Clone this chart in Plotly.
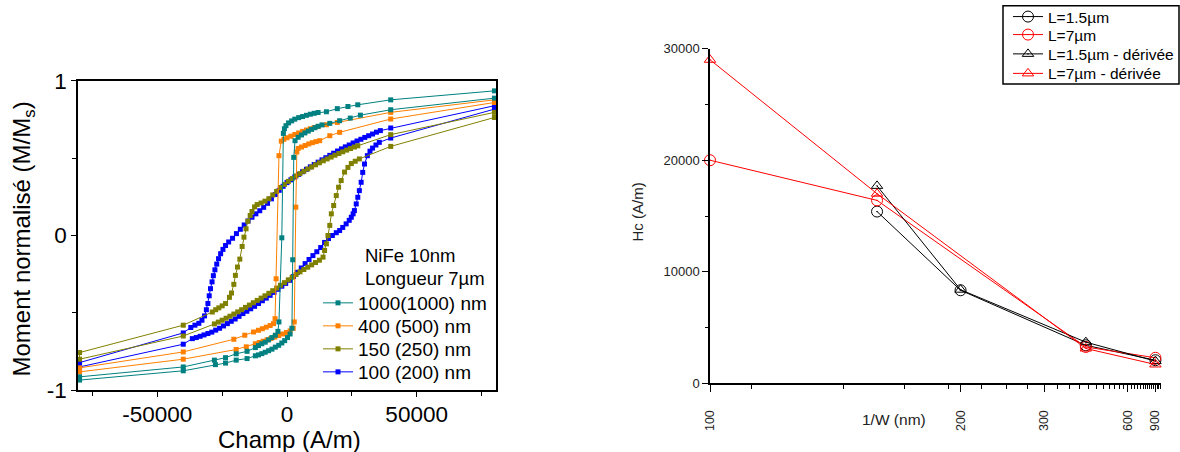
import plotly.graph_objects as go

# ---------------- Left panel: hysteresis loops (Champ in A/m, M/Ms) ----------------
series_names = ["1000(1000) nm", "400 (500) nm", "150 (250) nm", "100 (200) nm"]

teal_desc_H = [80000, 40000, 27300, 23500, 19400, 15200, 12000, 10500, 9000, 7500, 6000, 4500, 3000, 1800, 600, -400, -1000, -1400,
               -2000, -3100, -3500, -4500, -5800, -7100, -8400, -9700, -11000, -12200, -15400, -19600, -23700, -28000, -40000, -80000]
teal_desc_M = [0.935, 0.877, 0.845, 0.834, 0.82, 0.80, 0.795, 0.79, 0.784, 0.777, 0.769, 0.762, 0.752, 0.741, 0.728, 0.71, 0.69, 0.66,
               -0.015, -0.559, -0.62, -0.645, -0.66, -0.675, -0.69, -0.70, -0.712, -0.725, -0.749, -0.765, -0.79, -0.806, -0.85, -0.914]
teal_asc_H = [-80000, -40000, -27600, -23700, -19600, -15400, -12200, -11000, -9700, -8400, -7100, -5800, -4500, -3200, -2000, -900, 200, 1200, 1900,
              2200, 2600, 3100, 4300, 5600, 6900, 8200, 9500, 10800, 12000, 13500, 16500, 20300, 24400, 28300, 40000, 80000]
teal_asc_M = [-0.935, -0.875, -0.835, -0.825, -0.806, -0.796, -0.778, -0.772, -0.764, -0.755, -0.745, -0.735, -0.722, -0.71, -0.695, -0.68, -0.66, -0.637, -0.60,
              -0.157, 0.505, 0.613, 0.635, 0.65, 0.663, 0.675, 0.686, 0.697, 0.706, 0.715, 0.725, 0.742, 0.759, 0.778, 0.813, 0.888]

orange_desc_H = [80000, 40000, 19400, 15200, 12000, 10500, 9000, 7500, 6000, 4500, 3000, 1500, 0, -1200, -2200,
                 -3100, -4200, -4600, -5200, -6500, -8000, -9500, -11000, -12900, -16300, -20500, -40000, -80000]
orange_desc_M = [0.877, 0.796, 0.731, 0.716, 0.705, 0.698, 0.69, 0.682, 0.673, 0.663, 0.653, 0.642, 0.632, 0.622, 0.61,
                 0.516, -0.28, -0.538, -0.57, -0.582, -0.593, -0.603, -0.613, -0.624, -0.645, -0.671, -0.753, -0.856]
orange_asc_H = [-80000, -40000, -19600, -15700, -12200, -10700, -9200, -7700, -6200, -4700, -3200, -1700, -200, 1200, 2400,
                2800, 3400, 3800, 4300, 5600, 7000, 8400, 9800, 11200, 12600, 16500, 20300, 40000, 80000]
orange_asc_M = [-0.882, -0.80, -0.737, -0.72, -0.70, -0.692, -0.684, -0.675, -0.666, -0.657, -0.647, -0.637, -0.627, -0.617, -0.60,
                -0.559, 0.183, 0.54, 0.563, 0.572, 0.582, 0.592, 0.60, 0.607, 0.613, 0.645, 0.667, 0.753, 0.86]

olive_desc_H = [80000, 40000, 27300, 26000, 24500, 23000, 21500, 20000, 18500, 17000, 15500, 14000, 12500, 11000, 9500, 8000, 6500,
                5000, 3500, 2000, 500, -1000, -2500, -4000, -5500, -7000, -8500, -10000, -11500, -12500, -13500, -14200, -15100,
                -15800, -16600, -17300, -18200, -19100, -19900, -20500, -21400, -22200, -23700, -25000, -26300, -27500, -28800,
                -40000, -80000]
olive_desc_M = [0.796, 0.652, 0.58, 0.572, 0.562, 0.552, 0.541, 0.53, 0.519, 0.507, 0.495, 0.483, 0.47, 0.457, 0.443, 0.43, 0.415,
                0.40, 0.385, 0.368, 0.35, 0.33, 0.31, 0.285, 0.262, 0.238, 0.222, 0.21, 0.2, 0.185, 0.155, 0.129, 0.092,
                0.043, -0.011, -0.071, -0.153, -0.204, -0.258, -0.316, -0.372, -0.40, -0.44, -0.455, -0.468, -0.48, -0.495,
                -0.58, -0.757]
olive_asc_H = [-80000, -40000, -28000, -26500, -25000, -23500, -22000, -20500, -19000, -17500, -16000, -14500, -13000, -11500,
               -10000, -8500, -7000, -5500, -4000, -2500, -1000, 500, 2000, 3500, 5000, 6500, 8000, 9500, 11000, 12500, 13900,
               14500, 15200, 15800, 16500, 17100, 18000, 19000, 19900, 20900, 22200, 23500, 24800, 26300, 27900, 40000, 80000]
olive_asc_M = [-0.80, -0.65, -0.572, -0.56, -0.548, -0.535, -0.522, -0.508, -0.494, -0.48, -0.465, -0.45, -0.435, -0.42,
               -0.405, -0.39, -0.374, -0.357, -0.34, -0.322, -0.305, -0.287, -0.27, -0.252, -0.235, -0.22, -0.205, -0.19, -0.175, -0.16, -0.14,
               -0.097, -0.054, 0.0, 0.065, 0.14, 0.194, 0.258, 0.312, 0.355, 0.41, 0.44, 0.465, 0.48, 0.495, 0.576, 0.763]

blue_desc_H = [80000, 40000, 36000, 34500, 33000, 31500, 30000, 28500, 27000, 25500, 24000, 22500, 21000, 19500, 18000, 16500,
               15000, 13500, 12000, 10500, 9000, 7500, 6000, 4500, 3000, 1500, 0, -1500, -3000, -4500, -6000, -7500, -9000,
               -10500, -12000, -13500, -15000, -16500, -18000, -19500, -21000, -22500, -23700, -24700, -25600, -26400, -27100,
               -27800, -28400, -28900, -29500, -30000, -30500, -31100, -31800, -32800, -34000, -35500, -37100, -40000, -80000]
blue_desc_M = [0.839, 0.695, 0.678, 0.668, 0.656, 0.645, 0.634, 0.622, 0.611, 0.598, 0.585, 0.573, 0.56, 0.546, 0.532, 0.518,
               0.503, 0.489, 0.474, 0.459, 0.444, 0.428, 0.412, 0.395, 0.378, 0.36, 0.342, 0.318, 0.292, 0.265, 0.237, 0.208, 0.182,
               0.16, 0.14, 0.118, 0.094, 0.068, 0.04, 0.012, -0.018, -0.042, -0.065, -0.09, -0.118, -0.15, -0.185,
               -0.222, -0.26, -0.30, -0.344, -0.39, -0.44, -0.48, -0.52, -0.548, -0.568, -0.58, -0.595, -0.63, -0.822]
blue_asc_H = [-80000, -40000, -36500, -35000, -33500, -32000, -30500, -29000, -27500, -26000, -24500, -23000, -21500, -20000,
              -18500, -17000, -15500, -14000, -12500, -11000, -9500, -8000, -6500, -5000, -3500, -2000, -500, 1000, 2500, 4000,
              5500, 7000, 8500, 10000, 11500, 13000, 14500, 16000, 17500, 19000, 20300, 21500, 22800, 24000, 24800, 25500,
              26000, 26700, 27300, 27900, 28600, 29200, 29900, 31000, 32000, 33000, 34300, 35600, 40000, 80000]
blue_asc_M = [-0.85, -0.703, -0.667, -0.66, -0.652, -0.643, -0.634, -0.625, -0.612, -0.60, -0.585, -0.57, -0.555, -0.54,
              -0.523, -0.505, -0.49, -0.474, -0.458, -0.44, -0.422, -0.405, -0.387, -0.368, -0.348, -0.328, -0.31, -0.29, -0.265, -0.238,
              -0.21, -0.182, -0.155, -0.13, -0.105, -0.078, -0.045, -0.02, 0.0, 0.018, 0.032, 0.052, 0.075, 0.098, 0.118, 0.14,
              0.161, 0.204, 0.247, 0.29, 0.344, 0.408, 0.462, 0.516, 0.545, 0.565, 0.585, 0.602, 0.63, 0.817]

left_xticks = [-50000, 0, 50000]
left_xtick_labels = ["-50000", "0", "50000"]
left_yticks = [-1, 0, 1]
left_ytick_labels = ["-1", "0", "1"]

# ---------------- Right panel: Hc vs width (reciprocal axis) ----------------
W_L15 = [150, 200, 400, 900]
Hc_L15 = [15400, 8350, 3420, 2080]
Hc_L15_der = [17700, 8400, 3700, 2000]
W_L7 = [100, 150, 400, 900]
Hc_L7 = [20000, 16400, 3270, 2300]
Hc_L7_der = [29000, 17000, 3130, 1700]
right_legend = ["L=1.5µm", "L=7µm", "L=1.5µm - dérivée", "L=7µm - dérivée"]
right_xtick_W = [100, 200, 300, 600, 900]
right_yticks = [0, 10000, 20000, 30000]

FONT = "Liberation Sans, Arial, sans-serif"
W_FIG, H_FIG = 1180, 452


def px_x(p):
    return p / W_FIG


def px_y(p):
    return 1 - p / H_FIG


fig = go.Figure()

# left loops; one single-entry legend per series so rows sit where the reference has them
left_rows = {series_names[0]: ("legend", 303), series_names[1]: ("legend3", 326),
             series_names[2]: ("legend4", 349), series_names[3]: ("legend5", 372)}
loops = [
    (series_names[3], "#0000FF", blue_desc_H + blue_asc_H, blue_desc_M + blue_asc_M),
    (series_names[2], "#808000", olive_desc_H + olive_asc_H, olive_desc_M + olive_asc_M),
    (series_names[1], "#FF8000", orange_desc_H + orange_asc_H, orange_desc_M + orange_asc_M),
    (series_names[0], "#008080", teal_desc_H + teal_asc_H, teal_desc_M + teal_asc_M),
]
for name, col, hx, my in loops:
    fig.add_trace(go.Scatter(
        x=hx, y=my, mode="lines+markers", name=name,
        line=dict(color=col, width=1),
        marker=dict(symbol="square", size=5, color=col, line=dict(width=0)),
        xaxis="x", yaxis="y", legend=left_rows[name][0], cliponaxis=False,
    ))

# right panel traces (x = 1/W on a reversed axis -> reciprocal scale in W)
right_rows = [("legend2", 15.7), ("legend6", 35.0), ("legend7", 54.3), ("legend8", 73.8)]
right_series = [
    (right_legend[0], "#000000", "circle-open-dot", 11, W_L15, Hc_L15),
    (right_legend[1], "#FF0000", "circle-open-dot", 11, W_L7, Hc_L7),
    (right_legend[2], "#000000", "triangle-up-open-dot", 10, W_L15, Hc_L15_der),
    (right_legend[3], "#FF0000", "triangle-up-open-dot", 10, W_L7, Hc_L7_der),
]
for (name, col, sym, sz, wv, hc), (lg, _) in zip(right_series, right_rows):
    fig.add_trace(go.Scatter(
        x=[1.0 / w for w in wv], y=hc, mode="lines+markers", name=name,
        line=dict(color=col, width=1),
        marker=dict(symbol=sym, size=sz, color=col, line=dict(width=1, color=col)),
        xaxis="x2", yaxis="y2", legend=lg, cliponaxis=False,
    ))

# minor tick positions of the reciprocal axis (Origin-style steps)
minor_W = [300.0 * k / 11 for k in range(4, 37) if k not in (11, 22, 33)]

left_dom_x = [px_x(78), px_x(496)]
left_dom_y = [px_y(390), px_y(80)]
right_dom_x = [px_x(710), px_x(1161)]
right_dom_y = [px_y(383.3), px_y(47.7)]

axis_font = dict(family=FONT, size=22.5, color="black")

legend_layout = {}
for name, (lg, yc) in left_rows.items():
    legend_layout[lg] = dict(x=px_x(318), y=px_y(yc), xanchor="left", yanchor="middle",
                             bgcolor="rgba(0,0,0,0)", borderwidth=0, itemwidth=30,
                             font=dict(family=FONT, size=19, color="black"))
for lg, yc in right_rows:
    legend_layout[lg] = dict(x=px_x(1008), y=px_y(yc), xanchor="left", yanchor="middle",
                             bgcolor="rgba(0,0,0,0)", borderwidth=0, itemwidth=30,
                             font=dict(family=FONT, size=15.5, color="black"))

fig.update_layout(
    template="none",
    width=W_FIG, height=H_FIG, autosize=False,
    margin=dict(l=0, r=0, t=0, b=0, pad=0),
    paper_bgcolor="white", plot_bgcolor="white",
    font=dict(family=FONT, color="black"),
    xaxis=dict(domain=left_dom_x, anchor="y", range=[-80600, 80600], automargin=False,
               tickmode="array", tickvals=left_xticks, ticktext=left_xtick_labels,
               ticks="outside", ticklen=5, tickwidth=1.2, tickcolor="black",
               minor=dict(tickvals=[-75000, -25000, 25000, 75000], ticks="outside", ticklen=4, tickcolor="black"),
               showline=True, linecolor="black", linewidth=1.5, mirror=True,
               showgrid=False, zeroline=False, tickfont=axis_font, ticklabelstandoff=-2),
    yaxis=dict(domain=left_dom_y, anchor="x", range=[-1, 1], automargin=False,
               tickmode="array", tickvals=left_yticks, ticktext=left_ytick_labels,
               ticks="outside", ticklen=5, tickwidth=1.2, tickcolor="black",
               minor=dict(tickvals=[-0.5, 0.5], ticks="outside", ticklen=4, tickcolor="black"),
               showline=True, linecolor="black", linewidth=1.5, mirror=True,
               showgrid=False, zeroline=False, tickfont=axis_font),
    xaxis3=dict(overlaying="x", matches="x", side="top", anchor="y", range=[-80600, 80600], automargin=False,
                tickmode="array", tickvals=left_xticks, ticks="inside", ticklen=4, tickcolor="black",
                minor=dict(tickvals=[-75000, -25000, 25000, 75000], ticks="inside", ticklen=3, tickcolor="black"),
                showticklabels=False, showgrid=False, zeroline=False, showline=False),
    yaxis3=dict(overlaying="y", matches="y", side="right", anchor="x", range=[-1, 1], automargin=False,
                tickmode="array", tickvals=left_yticks, ticks="inside", ticklen=4, tickcolor="black",
                minor=dict(tickvals=[-0.5, 0.5], ticks="inside", ticklen=3, tickcolor="black"),
                showticklabels=False, showgrid=False, zeroline=False, showline=False),
    xaxis2=dict(domain=right_dom_x, anchor="y2", range=[1.0 / 100, 1.0 / 1000], automargin=False,
                tickmode="array", tickvals=[1.0 / w for w in right_xtick_W],
                ticktext=[str(w) for w in right_xtick_W], tickangle=-90,
                ticks="outside", ticklen=7, tickwidth=1.2, tickcolor="black",
                minor=dict(tickvals=[1.0 / w for w in minor_W], ticks="outside", ticklen=4, tickcolor="black"),
                showline=True, linecolor="black", linewidth=1.5, mirror=False,
                showgrid=False, zeroline=False, ticklabelstandoff=13,
                tickfont=dict(family=FONT, size=12.5, color="#222")),
    yaxis2=dict(domain=right_dom_y, anchor="x2", range=[0, 30000], automargin=False,
                tickmode="array", tickvals=right_yticks, ticktext=[str(v) for v in right_yticks],
                ticks="outside", ticklen=6, tickwidth=1.2, tickcolor="black",
                minor=dict(dtick=5000, tick0=0, ticks="outside", ticklen=3, tickcolor="black"),
                showline=True, linecolor="black", linewidth=1.5, mirror=False,
                showgrid=False, zeroline=False,
                tickfont=dict(family=FONT, size=13, color="#222")),
    showlegend=True,
    **legend_layout,
)

# frame around the right-hand legend
fig.add_shape(type="rect", xref="paper", yref="paper",
              x0=px_x(1003), x1=px_x(1179), y0=px_y(83.3), y1=px_y(4.7),
              line=dict(color="black", width=1.5), fillcolor="rgba(0,0,0,0)", layer="above")

annotations = [
    dict(text="NiFe 10nm", x=px_x(363), y=px_y(255), xanchor="left", yanchor="middle",
         font=dict(family=FONT, size=18.5, color="black")),
    dict(text="Longueur 7µm", x=px_x(363), y=px_y(278), xanchor="left", yanchor="middle",
         font=dict(family=FONT, size=18.5, color="black")),
    dict(text="Champ (A/m)", x=px_x(289), y=px_y(439.5), xanchor="center", yanchor="middle",
         font=dict(family=FONT, size=24, color="black")),
    dict(text="Moment normalisé (M/M<sub>s</sub>)", x=px_x(23), y=px_y(239), xanchor="center", yanchor="middle",
         textangle=-90, font=dict(family=FONT, size=24, color="black")),
    dict(text="1/W (nm)", x=px_x(894), y=px_y(419), xanchor="center", yanchor="middle",
         font=dict(family=FONT, size=15.5, color="#222")),
    dict(text="Hc (A/m)", x=px_x(638), y=px_y(212), xanchor="center", yanchor="middle",
         textangle=-90, font=dict(family=FONT, size=15, color="#222")),
]
for a in annotations:
    a.update(xref="paper", yref="paper", showarrow=False)
fig.update_layout(annotations=annotations)

# the page's default 8px body margin would shift the figure; remove it
fig.write_html("out.html", config={"displayModeBar": False},
               post_script="document.body.style.margin='0px';")
